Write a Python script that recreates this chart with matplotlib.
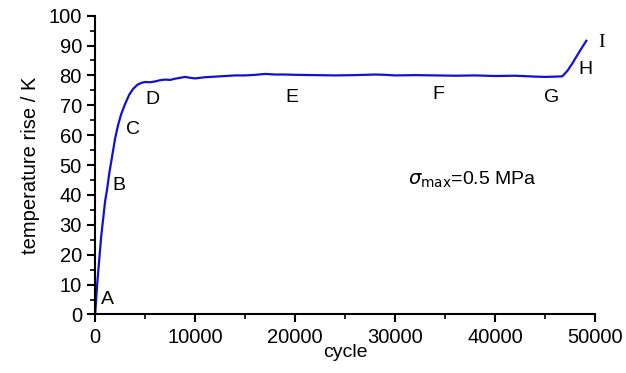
import matplotlib.pyplot as plt
import numpy as np

plt.rcParams['font.family'] = ['Liberation Sans', 'DejaVu Sans']

cycles = [0, 100, 200, 400, 600, 800, 1000, 1200, 1400, 1700, 2000, 2300, 2600,
          3000, 3400, 3800, 4200, 4600, 5000, 5500, 6000, 6500, 7000, 7500, 8000,
          8500, 9000, 9500, 10000, 11000, 12000, 13000, 14000, 15000, 16000,
          17000, 18000, 19000, 20000, 22000, 24000, 26000, 28000, 29000, 30000,
          32000, 34000, 36000, 38000, 40000, 42000, 44000, 45000, 46000, 46700,
          47200, 47700, 48200, 48700, 49100]
temps = [0, 5, 10, 18, 26, 32, 38, 42, 47, 53, 59, 63.5, 67, 70.5, 73.5, 75.5,
         76.8, 77.5, 77.8, 77.7, 78.0, 78.4, 78.6, 78.5, 78.9, 79.2, 79.5, 79.2,
         79.0, 79.4, 79.6, 79.8, 80.0, 80.0, 80.2, 80.5, 80.3, 80.3, 80.2, 80.1,
         80.0, 80.1, 80.3, 80.2, 80.0, 80.1, 80.0, 79.9, 80.0, 79.8, 79.9, 79.6,
         79.5, 79.6, 79.7, 81.5, 84.0, 86.8, 89.5, 91.6]

point_labels = ['A', 'B', 'C', 'D', 'E', 'F', 'G', 'H']
label_x = [1200, 2400, 3800, 5700, 19700, 34300, 45600, 49000]
label_y = [5, 43, 62, 72, 72.5, 73.5, 72.5, 82]

fig, ax = plt.subplots(figsize=(6.26, 3.73), dpi=100)
fig.subplots_adjust(left=0.152, right=0.951, top=0.958, bottom=0.157)

ax.plot(cycles, temps, color='#1010d8', lw=1.6)

for lab, x, y in zip(point_labels, label_x, label_y):
    ax.text(x, y, lab, fontsize=14, ha='center', va='center')
ax.text(50300, 91, 'I', fontsize=14, ha='left', va='center', family='Liberation Serif')
ax.text(31300, 45, r'$\sigma_{\mathrm{max}}$=0.5 MPa', fontsize=14, ha='left', va='center')

ax.set_xlim(0, 50000)
ax.set_ylim(0, 100)
ax.set_xticks(np.arange(0, 50001, 10000))
ax.set_xticks(np.arange(0, 50001, 5000), minor=True)
ax.set_yticks(np.arange(0, 101, 10))
ax.set_yticks(np.arange(0, 101, 5), minor=True)
ax.spines['top'].set_visible(False)
ax.spines['right'].set_visible(False)
ax.spines['left'].set_linewidth(1.5)
ax.spines['bottom'].set_linewidth(1.5)
ax.tick_params(which='major', direction='out', length=6, width=1.5, labelsize=14.5)
ax.tick_params(which='minor', direction='out', length=3.5, width=1.2)

ax.set_xlabel('cycle', fontsize=14, labelpad=-2)
ax.set_ylabel('temperature rise / K', fontsize=14.5, labelpad=6)

plt.savefig('out.png')
